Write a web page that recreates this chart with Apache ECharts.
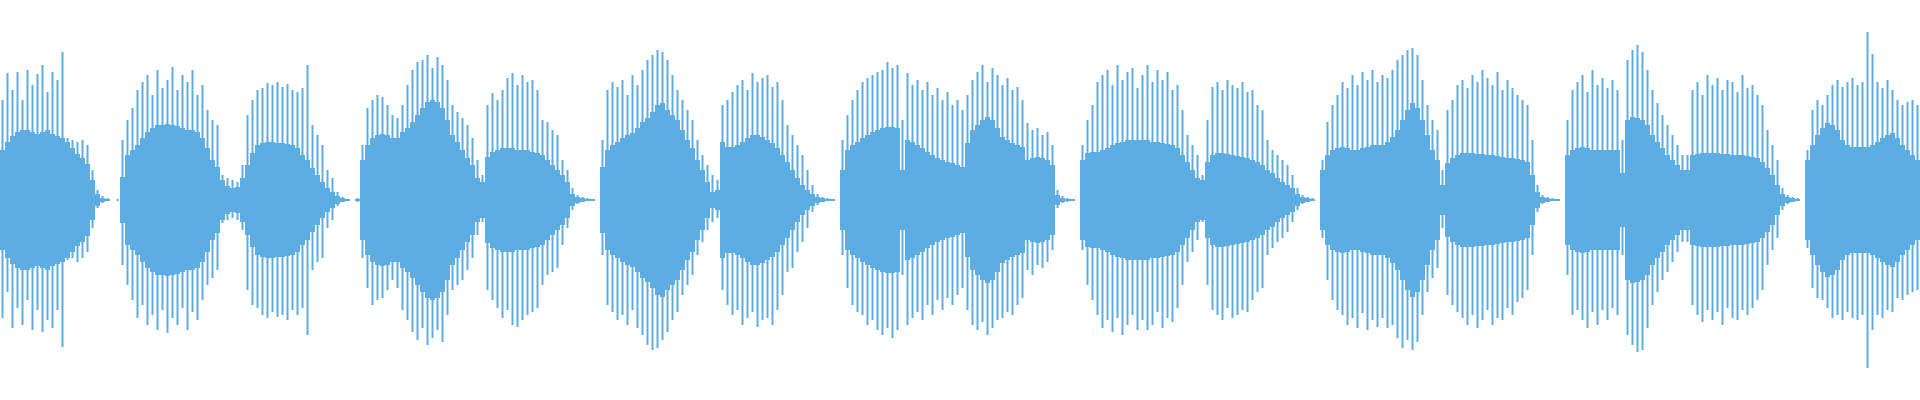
<!DOCTYPE html>
<html><head><meta charset="utf-8">
<script src="https://cdn.jsdelivr.net/npm/echarts@6/dist/echarts.min.js"></script>
<style>html,body{margin:0;padding:0;background:#fff}#c{width:1920px;height:400px}</style>
</head><body><div id="c"></div>
<script>
// amplitude envelope per sample bucket (dense core), upper peaks and lower peaks
const core = [
50,58,64,68,70,70,68,66,68,70,66,64,62,58,52,46,42,36,20, 6,2,1, 0, 0,
23,45,50,55,62,68,72,75,75,76,75,74,72,70,70,68,62,52,40,33,20,14,12,13,
22,35,47,55,57,58,58,57,57,56,55,52,45,40,32,25,18,12,8, 4,2,1, 0, 1,
40,55,62,65,66,65,62,62,68,72,78,85,92,98,100,98,92,80,65,58,50,42,35,22,
18,43,48,50,52,52,52,50,50,50,48,47,45,40,35,30,25,18, 6,3,2,1,1, 0,
33,50,55,58,62,65,67,72,78,82,88,95,97,90,85,80,70,60,52,40,30,18,8,
10,58,53,53,55,58,62,65,65,63,60,57,52,45,38,30,22,15,10,6, 3,2,1,1,0,
30,50,55,58,62,65,68,70,72,73,73,72,30,60,58,55,52,48,45,42,40,38,37,35,33,57,70,75,80,83,80,72,63,60,57,55,53,
40,42,43,42,40,35, 5,2,1,1,0,
40,47,48,48,50,52,55,57,58,60,60,60,60,60,58,58,57,56,55,52,45,38,30,22,
20,38,45,47,47,46,45,44,43,42,40,38,35,30,27,22,18,15,12, 6,3,2,1,0,
30,45,50,52,53,52,50,50,52,53,55,55,55,58,63,70,80,90,97,92,80,65,50,40,
15,37,42,45,47,47,47,46,46,45,45,44,43,42,42,41,40,38,25, 8,3,2,1,1,0,
45,50,52,53,52,50,50,50,50,50,50,27,80,83,82,80,75,65,58,52,45,40,35,30,
30,45,46,47,47,47,47,46,46,45,45,45,44,43,42,38,32,25,15, 6,3,2,1,0,
40,55,65,72,77,75,70,60,55,53,53,53,53,55,58,62,65,67,62,55,50,45,40
];
const peaksUp = [
100,127,110,128,100,130,115,126,135,108,128,120,148,62,60,58,60,55,30, 10,4,2, 0, 1,
60,80,92,110,118,125,105,130,112,120,133,110,125,118,130,105,115,90,80,75,25,22,20,18,
35,85,100,110,112,117,115,118,113,116,110,108,112,135,75,65,55,30,22, 8,3,1, 0, 2,
55,92,100,105,103,95,85,82,95,115,130,138,140,145,132,143,135,120,95,88,82,75,62,40,
25,95,107,100,110,122,127,115,125,118,120,110,80,78,70,65,40,30, 12,5,3,2,1, 0,
60,110,118,113,120,105,125,115,130,140,145,150,148,140,125,110,100,90,80,60,45,35,25,
20,95,100,108,115,120,110,127,118,122,125,113,118,100,75,65,55,45,30,15, 6,3,2,1,0,
60,85,100,110,118,122,125,128,130,138,132,135,80,127,115,120,110,118,105,112,100,108,95,100,90,105,120,128,135,118,132,125,115,122,110,113,100,
77,70,72,65,68,55, 10,4,2,1,0,
55,80,95,118,125,130,115,135,120,128,132,112,125,135,118,130,120,128,110,115,90,65,55,45,
25,80,113,118,110,120,115,112,118,108,110,95,90,60,50,45,40,35,25, 12,5,3,2,0,
40,78,95,105,118,112,125,115,128,120,130,118,125,122,130,140,145,150,152,145,120,95,80,70,
30,90,100,115,120,112,125,118,130,122,115,128,110,120,112,105,100,95,60, 15,5,3,2,1,0,
80,110,118,125,108,130,115,122,112,120,110,60,140,150,155,148,130,110,97,85,75,65,55,45,
45,110,118,105,125,115,122,110,120,118,108,125,112,115,105,95,70,55,40, 12,5,3,2,0,
50,90,100,95,105,115,120,113,118,122,115,118,168,146,118,112,120,110,100,95,98,100,95
];
const peaksDown = [
118,92,128,108,125,100,130,110,132,120,128,110,147,60,58,62,58,52,28, 8,3,1, 0, 1,
65,85,100,118,105,125,115,130,110,133,118,125,108,130,112,120,100,85,78,70,23,20,18,20,
30,90,105,108,115,118,112,117,115,120,110,115,108,135,70,62,58,28,20, 6,2,1, 0, 2,
58,88,105,100,98,90,80,88,110,120,132,140,128,145,138,130,142,115,90,85,80,70,58,35,
22,90,100,108,118,110,125,127,120,115,112,108,85,75,72,68,45,28, 10,4,2,1,1, 0,
55,105,112,120,115,125,110,128,135,145,150,148,140,132,120,112,95,85,75,55,42,30,22,
18,90,105,115,110,125,118,112,127,120,118,125,110,95,72,68,52,42,28,12, 5,2,1,1,0,
55,88,105,112,115,125,120,130,135,128,138,130,75,125,118,112,120,105,115,100,110,98,105,95,88,110,125,130,122,135,128,120,118,112,115,105,98,
70,75,65,68,62,50, 8,3,2,1,0,
50,85,100,115,128,120,132,118,135,125,115,130,120,130,125,112,128,118,122,108,85,62,52,40,
22,85,110,115,120,108,118,115,110,112,100,92,88,55,48,42,38,32,22, 10,4,2,1,0,
38,80,100,110,115,125,118,128,113,130,120,127,118,128,125,138,148,140,150,142,115,92,78,68,
28,95,105,112,118,125,115,128,120,110,125,118,120,108,115,102,98,90,55, 12,4,2,1,1,0,
75,115,110,120,128,112,125,110,120,108,115,55,135,145,152,150,128,105,92,80,72,62,52,42,
42,105,115,122,110,120,112,125,108,118,120,110,115,108,100,90,65,50,38, 10,4,2,1,0,
48,88,98,100,108,118,115,120,112,118,120,115,168,130,115,118,110,112,98,100,95,92,90
];
const samples = core.map((_, i) => i);

const color = '#5dade2';
const chart = echarts.init(document.getElementById('c'));
chart.setOption({
  animation: false,
  grid: {left: 0, right: 0, top: 0, bottom: 0},
  xAxis: [
    {type: 'category', data: samples, show: false},
    {type: 'category', data: samples, show: false}
  ],
  yAxis: {type: 'value', min: -200, max: 200, show: false},
  series: [
    {type: 'bar', xAxisIndex: 0, data: core, barCategoryGap: '0%', barGap: '-100%', itemStyle: {color}},
    {type: 'bar', xAxisIndex: 0, data: core.map(v => -v), barCategoryGap: '0%', barGap: '-100%', itemStyle: {color}},
    {type: 'bar', xAxisIndex: 1, data: peaksUp, barWidth: 2, barGap: '-100%', itemStyle: {color}},
    {type: 'bar', xAxisIndex: 1, data: peaksDown.map(v => -v), barWidth: 2, barGap: '-100%', itemStyle: {color}}
  ]
});
</script></body></html>
